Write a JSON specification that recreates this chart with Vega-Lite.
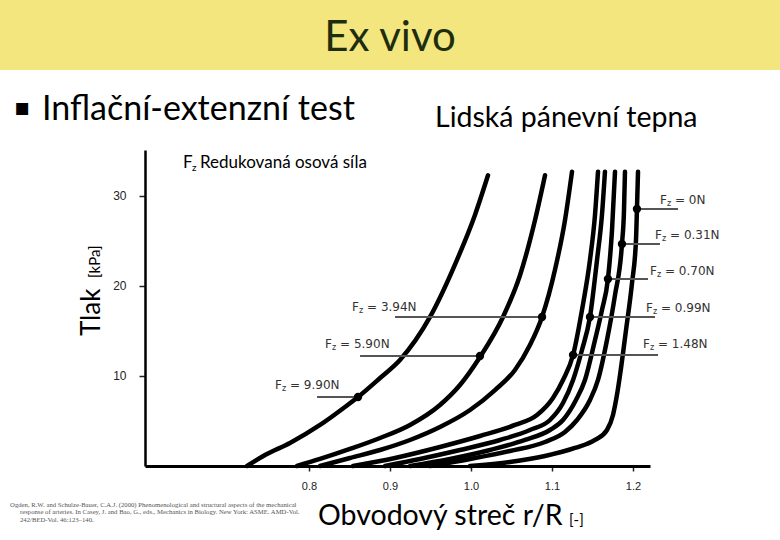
{
  "$schema": "https://vega.github.io/schema/vega-lite/v6.json",
  "width": 505,
  "height": 316,
  "autosize": "none",
  "padding": {"left": 145, "top": 150, "right": 130, "bottom": 74},
  "background": "white",
  "config": {"view": {"stroke": null}},
  "datasets": {
    "banner": [{"r": 0.4185, "r2": 1.3815, "p": 44.0, "p2": 51.8}],
    "title": [{"t": "Ex vivo", "r": 0.9, "p": 47.56}],
    "curves": [
      {"f": "9.90N", "r": 0.7235, "p": 0}, {"f": "9.90N", "r": 0.7457, "p": 1.22}, {"f": "9.90N", "r": 0.7765, "p": 2.56}, {"f": "9.90N", "r": 0.8136, "p": 4.56}, {"f": "9.90N", "r": 0.8444, "p": 6.56}, {"f": "9.90N", "r": 0.8605, "p": 7.67}, {"f": "9.90N", "r": 0.8877, "p": 9.78}, {"f": "9.90N", "r": 0.9123, "p": 11.78}, {"f": "9.90N", "r": 0.9494, "p": 16.56}, {"f": "9.90N", "r": 0.9827, "p": 22.9}, {"f": "9.90N", "r": 1.0049, "p": 27.9}, {"f": "9.90N", "r": 1.021, "p": 32.3},
      {"f": "5.90N", "r": 0.7852, "p": 0}, {"f": "5.90N", "r": 0.8136, "p": 0.78}, {"f": "5.90N", "r": 0.8506, "p": 1.89}, {"f": "5.90N", "r": 0.8877, "p": 3.11}, {"f": "5.90N", "r": 0.9247, "p": 4.56}, {"f": "5.90N", "r": 0.9617, "p": 6.78}, {"f": "5.90N", "r": 0.9864, "p": 9.0}, {"f": "5.90N", "r": 1.0111, "p": 12.11}, {"f": "5.90N", "r": 1.0395, "p": 16.56}, {"f": "5.90N", "r": 1.0605, "p": 21.2}, {"f": "5.90N", "r": 1.079, "p": 27.3}, {"f": "5.90N", "r": 1.0914, "p": 32.3},
      {"f": "3.94N", "r": 0.8136, "p": 0}, {"f": "3.94N", "r": 0.8506, "p": 0.89}, {"f": "3.94N", "r": 0.8877, "p": 1.78}, {"f": "3.94N", "r": 0.9247, "p": 2.89}, {"f": "3.94N", "r": 0.9617, "p": 4.33}, {"f": "3.94N", "r": 0.9988, "p": 6.22}, {"f": "3.94N", "r": 1.0296, "p": 8.44}, {"f": "3.94N", "r": 1.0543, "p": 10.67}, {"f": "3.94N", "r": 1.0728, "p": 13.44}, {"f": "3.94N", "r": 1.0877, "p": 16.56}, {"f": "3.94N", "r": 1.1037, "p": 21.8}, {"f": "3.94N", "r": 1.116, "p": 27.3}, {"f": "3.94N", "r": 1.1247, "p": 32.7},
      {"f": "1.48N", "r": 0.8543, "p": 0}, {"f": "1.48N", "r": 0.9062, "p": 0.89}, {"f": "1.48N", "r": 0.9617, "p": 2.11}, {"f": "1.48N", "r": 1.0111, "p": 3.33}, {"f": "1.48N", "r": 1.0543, "p": 4.56}, {"f": "1.48N", "r": 1.0815, "p": 5.67}, {"f": "1.48N", "r": 1.1012, "p": 7.56}, {"f": "1.48N", "r": 1.1136, "p": 9.56}, {"f": "1.48N", "r": 1.126, "p": 12.33}, {"f": "1.48N", "r": 1.137, "p": 17.33}, {"f": "1.48N", "r": 1.1469, "p": 22.9}, {"f": "1.48N", "r": 1.1531, "p": 27.9}, {"f": "1.48N", "r": 1.1568, "p": 32.7},
      {"f": "0.99N", "r": 0.8938, "p": 0}, {"f": "0.99N", "r": 0.937, "p": 0.78}, {"f": "0.99N", "r": 0.9864, "p": 1.78}, {"f": "0.99N", "r": 1.0358, "p": 2.89}, {"f": "0.99N", "r": 1.0728, "p": 4.0}, {"f": "0.99N", "r": 1.0975, "p": 5.11}, {"f": "0.99N", "r": 1.1136, "p": 7.0}, {"f": "0.99N", "r": 1.126, "p": 9.56}, {"f": "0.99N", "r": 1.137, "p": 12.89}, {"f": "0.99N", "r": 1.1469, "p": 16.56}, {"f": "0.99N", "r": 1.1556, "p": 22.9}, {"f": "0.99N", "r": 1.1617, "p": 27.9}, {"f": "0.99N", "r": 1.1654, "p": 32.7},
      {"f": "0.70N", "r": 0.9247, "p": 0}, {"f": "0.70N", "r": 0.9741, "p": 0.78}, {"f": "0.70N", "r": 1.0235, "p": 1.78}, {"f": "0.70N", "r": 1.0667, "p": 2.89}, {"f": "0.70N", "r": 1.0975, "p": 4.0}, {"f": "0.70N", "r": 1.1136, "p": 5.11}, {"f": "0.70N", "r": 1.1296, "p": 7.33}, {"f": "0.70N", "r": 1.1407, "p": 9.56}, {"f": "0.70N", "r": 1.1531, "p": 14.0}, {"f": "0.70N", "r": 1.1617, "p": 17.33}, {"f": "0.70N", "r": 1.1691, "p": 20.8}, {"f": "0.70N", "r": 1.1741, "p": 26.2}, {"f": "0.70N", "r": 1.1778, "p": 32.7},
      {"f": "0.31N", "r": 0.9494, "p": 0}, {"f": "0.31N", "r": 0.9988, "p": 0.78}, {"f": "0.31N", "r": 1.0481, "p": 1.67}, {"f": "0.31N", "r": 1.0914, "p": 2.67}, {"f": "0.31N", "r": 1.116, "p": 3.78}, {"f": "0.31N", "r": 1.1309, "p": 5.11}, {"f": "0.31N", "r": 1.1469, "p": 7.33}, {"f": "0.31N", "r": 1.1568, "p": 9.56}, {"f": "0.31N", "r": 1.1679, "p": 14.0}, {"f": "0.31N", "r": 1.1778, "p": 19.0}, {"f": "0.31N", "r": 1.1864, "p": 24.67}, {"f": "0.31N", "r": 1.1889, "p": 28.4}, {"f": "0.31N", "r": 1.1901, "p": 32.7},
      {"f": "0N", "r": 0.9988, "p": 0}, {"f": "0N", "r": 1.0481, "p": 0.44}, {"f": "0N", "r": 1.0914, "p": 1.11}, {"f": "0N", "r": 1.1284, "p": 2.0}, {"f": "0N", "r": 1.1531, "p": 2.89}, {"f": "0N", "r": 1.1679, "p": 4.0}, {"f": "0N", "r": 1.1753, "p": 5.67}, {"f": "0N", "r": 1.1802, "p": 7.89}, {"f": "0N", "r": 1.184, "p": 10.11}, {"f": "0N", "r": 1.1914, "p": 15.11}, {"f": "0N", "r": 1.1988, "p": 20.33}, {"f": "0N", "r": 1.2037, "p": 25.1}, {"f": "0N", "r": 1.2049, "p": 28.56}, {"f": "0N", "r": 1.2062, "p": 32.7}
    ],
    "dots": [
      {"f": "9.90N", "r": 0.8605, "p": 7.67}, {"f": "5.90N", "r": 1.0111, "p": 12.22}, {"f": "3.94N", "r": 1.0877, "p": 16.56},
      {"f": "1.48N", "r": 1.126, "p": 12.33}, {"f": "0.99N", "r": 1.1469, "p": 16.56}, {"f": "0.70N", "r": 1.1691, "p": 20.78},
      {"f": "0.31N", "r": 1.1864, "p": 24.67}, {"f": "0N", "r": 1.2049, "p": 28.56}
    ],
    "leaders": [
      {"f": "0N", "r": 1.2049, "r2": 1.2556, "p": 28.56}, {"f": "0.31N", "r": 1.1864, "r2": 1.2333, "p": 24.67},
      {"f": "0.70N", "r": 1.1691, "r2": 1.2185, "p": 20.78}, {"f": "0.99N", "r": 1.1481, "r2": 1.2272, "p": 16.56},
      {"f": "1.48N", "r": 1.1259, "r2": 1.2309, "p": 12.33}, {"f": "3.94N", "r": 0.9062, "r2": 1.0877, "p": 16.56},
      {"f": "5.90N", "r": 0.863, "r2": 1.0111, "p": 12.22}, {"f": "9.90N", "r": 0.8099, "r2": 0.8605, "p": 7.67}
    ],
    "labels": [
      {"lbl": "= 0N", "r": 1.2333, "p": 29.56}, {"lbl": "= 0.31N", "r": 1.2272, "p": 25.67},
      {"lbl": "= 0.70N", "r": 1.221, "p": 21.67}, {"lbl": "= 0.99N", "r": 1.216, "p": 17.56},
      {"lbl": "= 1.48N", "r": 1.2123, "p": 13.56}, {"lbl": "= 3.94N", "r": 0.8531, "p": 17.67},
      {"lbl": "= 5.90N", "r": 0.8198, "p": 13.56}, {"lbl": "= 9.90N", "r": 0.758, "p": 9.0}
    ],
    "bullet": [{"t": "▪", "r": 0.4358, "p": 39.8}],
    "heading": [{"t": "Inflační-extenzní test", "r": 0.4704, "p": 39.56}],
    "subhead": [{"t": "Lidská pánevní tepna", "r": 0.9556, "p": 38.67}],
    "fz": [{"lbl": "Redukovaná osová síla", "r": 0.6444, "p": 33.67}],
    "xtitle": [{"t": "Obvodový streč r/R", "r": 0.8111, "p": -6.56}],
    "xunit": [{"t": "[-]", "r": 1.121, "p": -6.56}],
    "ytitle": [{"t": "Tlak", "r": 0.542, "p": 14.44}],
    "yunit": [{"t": "[kPa]", "r": 0.542, "p": 20.89}],
    "cite": [
      {"t": "Ogden, R.W. and Schulze-Bauer, C.A.J. (2000) Phenomenological and structural aspects of the mechanical", "r": 0.4309, "p": -4.33},
      {"t": "response of arteries. In Casey, J. and Bao, G., eds., Mechanics in Biology. New York: ASME. AMD-Vol.", "r": 0.4432, "p": -5.11},
      {"t": "242/BED-Vol. 46:123–140.", "r": 0.4432, "p": -6.0}
    ]
  },
  "encoding": {
    "x": {
      "field": "r", "type": "quantitative",
      "scale": {"domain": [0.5975, 1.221], "nice": false, "zero": false},
      "axis": {"values": [0.8, 0.9, 1.0, 1.1, 1.2], "format": ".1f", "title": null, "grid": false,
        "domainColor": "black", "domainWidth": 3, "tickColor": "#222", "tickSize": 5, "tickWidth": 1.5,
        "labelFont": "Liberation Sans", "labelFontSize": 11, "labelColor": "#222", "labelPadding": 9}
    },
    "y": {
      "field": "p", "type": "quantitative",
      "scale": {"domain": [0, 35.11], "nice": false, "zero": false},
      "axis": {"values": [10, 20, 30], "title": null, "grid": false,
        "domainColor": "black", "domainWidth": 2.5, "tickColor": "#222", "tickSize": 6, "tickWidth": 1.5,
        "labelFont": "Liberation Sans", "labelFontSize": 12, "labelColor": "#222", "labelPadding": 13}
    }
  },
  "layer": [
    {"data": {"name": "banner"}, "mark": {"type": "rect", "color": "#F3E67E"}, "encoding": {"x2": {"field": "r2"}, "y2": {"field": "p2"}}},
    {"data": {"name": "title"}, "mark": {"type": "text", "font": "Lato", "fontSize": 42, "color": "#1F2D0F", "align": "center", "baseline": "middle"}, "encoding": {"text": {"field": "t"}}},
    {"data": {"name": "curves"}, "mark": {"type": "line", "color": "black", "strokeWidth": 4.5, "interpolate": "monotone", "strokeCap": "round"}, "encoding": {"detail": {"field": "f"}}},
    {"data": {"name": "leaders"}, "mark": {"type": "rule", "color": "#555", "strokeWidth": 2}, "encoding": {"x2": {"field": "r2"}}},
    {"data": {"name": "dots"}, "mark": {"type": "point", "filled": true, "color": "black", "size": 70, "opacity": 1}},
    {"data": {"name": "labels"}, "mark": {"type": "text", "font": "DejaVu Sans", "fontSize": 12, "color": "#333", "align": "left", "baseline": "middle"}, "encoding": {"text": {"value": "F"}}},
    {"data": {"name": "labels"}, "mark": {"type": "text", "font": "DejaVu Sans", "fontSize": 8, "color": "#333", "align": "left", "baseline": "middle", "dx": 7, "dy": 4}, "encoding": {"text": {"value": "z"}}},
    {"data": {"name": "labels"}, "mark": {"type": "text", "font": "DejaVu Sans", "fontSize": 12, "color": "#333", "align": "left", "baseline": "middle", "dx": 15}, "encoding": {"text": {"field": "lbl"}}},
    {"data": {"name": "bullet"}, "mark": {"type": "text", "font": "DejaVu Sans", "fontSize": 24, "color": "black", "align": "left", "baseline": "middle"}, "encoding": {"text": {"field": "t"}}},
    {"data": {"name": "heading"}, "mark": {"type": "text", "font": "Lato", "fontSize": 34, "color": "black", "align": "left", "baseline": "middle"}, "encoding": {"text": {"field": "t"}}},
    {"data": {"name": "subhead"}, "mark": {"type": "text", "font": "Lato", "fontSize": 28.5, "color": "black", "align": "left", "baseline": "middle"}, "encoding": {"text": {"field": "t"}}},
    {"data": {"name": "fz"}, "mark": {"type": "text", "font": "Lato", "fontSize": 17, "color": "black", "align": "left", "baseline": "middle"}, "encoding": {"text": {"value": "F"}}},
    {"data": {"name": "fz"}, "mark": {"type": "text", "font": "Lato", "fontSize": 10, "color": "black", "align": "left", "baseline": "middle", "dx": 9, "dy": 5}, "encoding": {"text": {"value": "z"}}},
    {"data": {"name": "fz"}, "mark": {"type": "text", "font": "Lato", "fontSize": 17, "color": "black", "align": "left", "baseline": "middle", "dx": 17}, "encoding": {"text": {"field": "lbl"}}},
    {"data": {"name": "xtitle"}, "mark": {"type": "text", "font": "Lato", "fontSize": 28.5, "color": "black", "align": "left", "baseline": "alphabetic"}, "encoding": {"text": {"field": "t"}}},
    {"data": {"name": "xunit"}, "mark": {"type": "text", "font": "Lato", "fontSize": 15, "color": "black", "align": "left", "baseline": "alphabetic"}, "encoding": {"text": {"field": "t"}}},
    {"data": {"name": "ytitle"}, "mark": {"type": "text", "font": "Lato", "fontSize": 26, "color": "black", "align": "left", "baseline": "alphabetic", "angle": 270}, "encoding": {"text": {"field": "t"}}},
    {"data": {"name": "yunit"}, "mark": {"type": "text", "font": "Lato", "fontSize": 15, "color": "black", "align": "left", "baseline": "alphabetic", "angle": 270}, "encoding": {"text": {"field": "t"}}},
    {"data": {"name": "cite"}, "mark": {"type": "text", "font": "Liberation Serif", "fontSize": 6.7, "color": "#555", "align": "left", "baseline": "middle"}, "encoding": {"text": {"field": "t"}}}
  ]
}
